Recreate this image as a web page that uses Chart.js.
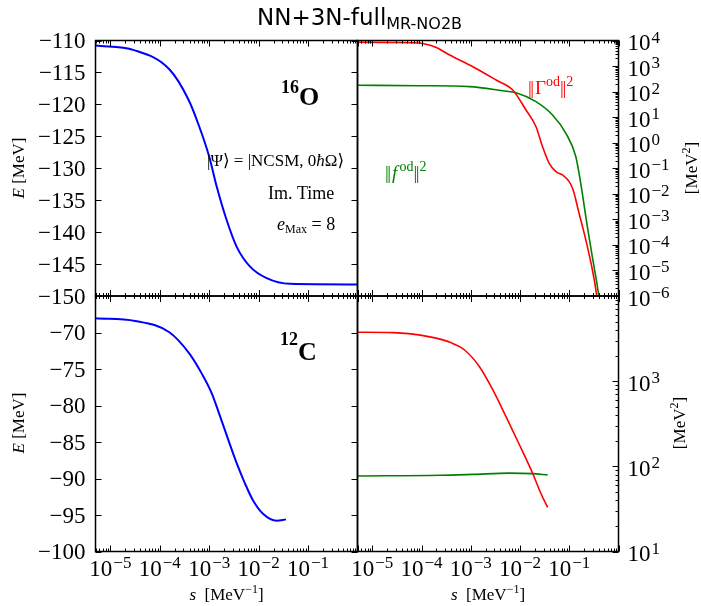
<!DOCTYPE html>
<html>
<head>
<meta charset="utf-8">
<script src="https://cdn.jsdelivr.net/npm/chart.js@4.4.1/dist/chart.umd.min.js"></script>
<style>
  body { margin: 0; background: #fff; }
  #fig { position: relative; width: 701px; height: 606px; }
  #fig canvas { position: absolute; left: 0; top: 0; }
</style>
</head>
<body>
<div id="fig">
  <canvas id="pTL" width="701" height="606"></canvas>
  <canvas id="pTR" width="701" height="606"></canvas>
  <canvas id="pBL" width="701" height="606"></canvas>
  <canvas id="pBR" width="701" height="606"></canvas>
</div>
<script>
// flow parameter range shared by all panels
const sMin = 5e-6, sMax = 1;

// 16O: ground-state energy
const sO16 = [5e-6, 3.0e-5, 1.56e-4, 3.77e-4, 6.3e-4, 1.0e-3, 1.42e-3, 2.25e-3, 3.6e-3, 6.7e-3, 1.45e-2, 4.3e-2, 1.0];
const eO16 = [-110.8, -111.5, -114.5, -119.2, -123.5, -128.2, -132.9, -138.1, -142.3, -145.4, -147.2, -148.1, -148.2];

// 16O: off-diagonal norms
const sO16Gamma = [5e-6, 2.28e-5, 7.0e-5, 1.07e-4, 2.0e-4, 3.72e-4, 1.1e-3, 3.27e-3, 7.1e-3, 1.32e-2, 2.11e-2, 2.87e-2, 3.92e-2, 5.36e-2, 7.28e-2, 9.95e-2, 0.12, 0.158, 0.217, 0.295, 0.355, 0.402];
const gammaO16 = [8510, 8400, 8200, 7600, 5300, 2700, 944, 284, 116, 19.1, 4.23, 0.697, 0.156, 0.0733, 0.0545, 0.0298, 0.0141, 1.73e-3, 1.56e-4, 1.04e-5, 1.28e-6, 1.15e-7];
const sO16F = [5e-6, 9.2e-5, 9.44e-4, 4.46e-3, 8.32e-3, 2.11e-2, 4.57e-2, 8.53e-2, 0.136, 0.171, 0.233, 0.318, 0.39, 0.441];
const fO16 = [177, 170, 156, 108, 90.6, 40.3, 12.1, 2.33, 0.283, 0.0258, 5.15e-4, 1.4e-5, 1.28e-6, 1.15e-7];

// 12C: ground-state energy
const sC12 = [5e-6, 3.16e-5, 1.56e-4, 4.07e-4, 7.03e-4, 1.12e-3, 1.66e-3, 2.43e-3, 3.59e-3, 5.28e-3, 7.76e-3, 1.24e-2, 2.31e-2, 3.57e-2];
const eC12 = [-68.06, -68.42, -69.97, -72.99, -75.6, -78.3, -81.5, -84.7, -87.9, -90.66, -93.04, -94.86, -95.78, -95.6];

// 12C: off-diagonal norms
const sC12Gamma = [5e-6, 2.65e-5, 1.47e-4, 4.03e-4, 7.48e-4, 1.5e-3, 2.79e-3, 5.22e-3, 9.77e-3, 1.8e-2, 2.66e-2, 3.63e-2];
const gammaC12 = [3750, 3715, 3311, 2818, 2323, 1479, 794, 380, 178, 83, 48, 33];
const sC12F = [5e-6, 2.34e-4, 1.1e-3, 6.1e-3, 1.8e-2, 3.63e-2];
const fC12 = [77, 78.5, 80.5, 83.2, 82, 79.4];

const SERIF = '"Liberation Serif", "DejaVu Serif", serif';
const SANS = '"DejaVu Sans", sans-serif';
const f = (size, style) => (style ? style + ' ' : '') + size + 'px ' + SERIF;

// draw a list of text runs [text, font, dy, dx] on one baseline
function drawRuns(ctx, x, y, runs, align) {
    let w = 0;
    runs.forEach(r => { ctx.font = r[1]; w += ctx.measureText(r[0]).width + (r[3] || 0); });
    let cx = align === 'center' ? x - w / 2 : align === 'right' ? x - w : x;
    runs.forEach(r => {
        ctx.font = r[1];
        cx += (r[3] || 0);
        ctx.fillText(r[0], cx, y + (r[2] || 0));
        cx += ctx.measureText(r[0]).width;
    });
}

function logTicks(min, max) {
    let majors = [], minors = [];
    for (let e = Math.floor(Math.log10(min)) - 1; e <= Math.ceil(Math.log10(max)); e++) {
        for (let k = 1; k < 10; k++) {
            let v = k * Math.pow(10, e);
            if (v < min * 0.999 || v > max * 1.001) continue;
            if (k === 1) majors.push(v); else minors.push(v);
        }
    }
    return { majors, minors };
}

function linTicks(min, max, step) {
    let majors = [];
    for (let v = Math.ceil(min / step) * step; v <= max + 1e-9; v += step) majors.push(v);
    return { majors, minors: [] };
}

function powLabel(v) {
    let e = Math.round(Math.log10(v));
    return [['10', f(23)], [(e < 0 ? '\u2212' : '') + Math.abs(e), f(17), -7.5, 1]];
}

// frame, inward ticks, tick labels and free text for one panel
const panelFrame = {
    id: 'panelFrame',
    afterDraw(chart, args, o) {
        const ctx = chart.ctx, a = chart.chartArea, xs = chart.scales.x, ys = chart.scales.y;
        const MAJ = 6, MIN = 3;
        ctx.save();
        ctx.strokeStyle = '#000';
        ctx.fillStyle = '#000';
        ctx.lineWidth = 1;

        const xt = logTicks(xs.min, xs.max);
        ctx.beginPath();
        [[xt.majors, MAJ], [xt.minors, MIN]].forEach(([vals, len]) => {
            vals.forEach(v => {
                let px = Math.round(xs.getPixelForValue(v)) + 0.5;
                ctx.moveTo(px, a.bottom); ctx.lineTo(px, a.bottom - len);
                ctx.moveTo(px, a.top); ctx.lineTo(px, a.top + len);
            });
        });
        const yt = o.yLog ? logTicks(ys.min, ys.max) : linTicks(ys.min, ys.max, 5);
        [[yt.majors, MAJ], [yt.minors, MIN]].forEach(([vals, len]) => {
            vals.forEach(v => {
                let py = Math.round(ys.getPixelForValue(v)) + 0.5;
                if (o.yLeftTicks) { ctx.moveTo(a.left, py); ctx.lineTo(a.left + len, py); }
                ctx.moveTo(a.right, py); ctx.lineTo(a.right - len, py);
            });
        });
        ctx.stroke();

        ctx.lineWidth = 1.5;
        ctx.strokeRect(a.left, a.top, a.right - a.left, a.bottom - a.top);

        // x tick labels
        if (o.xLabels) {
            xt.majors.forEach(v => {
                if (v >= xs.max * 0.99) return;
                drawRuns(ctx, xs.getPixelForValue(v), a.bottom + 24, powLabel(v), 'center');
            });
        }
        // y tick labels
        yt.majors.forEach(v => {
            if (o.skipTop && Math.abs(v - ys.max) < 1e-6 * Math.abs(ys.max)) return;
            let py = ys.getPixelForValue(v);
            if (o.yLog) {
                drawRuns(ctx, a.right + 9, py + 9.5, powLabel(v), 'left');
            } else {
                drawRuns(ctx, a.left - 10, py + 7.5, [['\u2212' + Math.abs(v), f(23)]], 'right');
            }
        });

        // free text
        (o.texts || []).forEach(t => {
            ctx.save();
            ctx.fillStyle = t.color || '#000';
            ctx.translate(t.x, t.y);
            if (t.rot) ctx.rotate(t.rot);
            drawRuns(ctx, 0, 0, t.runs, t.align || 'left');
            ctx.restore();
        });
        ctx.restore();
    }
};

function pts(sArr, yArr) {
    return sArr.map((s, i) => ({ x: s, y: yArr[i] }));
}

function line(sArr, yArr, color, width) {
    return {
        data: pts(sArr, yArr),
        borderColor: color,
        borderWidth: width,
        pointRadius: 0,
        fill: false,
        cubicInterpolationMode: 'monotone'
    };
}

function makePanel(id, pad, yType, yMin, yMax, datasets, frameOpts) {
    return new Chart(document.getElementById(id), {
        type: 'line',
        data: { datasets },
        options: {
            responsive: false,
            animation: false,
            devicePixelRatio: 1,
            layout: { padding: pad },
            scales: {
                x: { type: 'logarithmic', min: sMin, max: sMax, display: false },
                y: { type: yType, min: yMin, max: yMax, display: false }
            },
            plugins: {
                legend: { display: false },
                tooltip: { enabled: false },
                panelFrame: frameOpts
            }
        },
        plugins: [panelFrame]
    });
}

const HALF = -Math.PI / 2;
const eLabel = [['E', f(17, 'italic')], [' [MeV]', f(17)]];
const mev2Label = [['[MeV', f(17)], ['2', f(12), -7], [']', f(17)]];
const sLabel = [['s', f(17, 'italic')], ['  [MeV', f(17)], ['\u22121', f(12), -7], [']', f(17)]];
const bars = ['|', f(19)], barsTight = ['|', f(19), 0, -1.5];

makePanel('pTL', { left: 95.5, top: 40.5, right: 343.5, bottom: 310 }, 'linear', -150, -110,
    [line(sO16, eO16, '#0000ff', 2)],
    {
        yLog: false, yLeftTicks: true, xLabels: false,
        texts: [
            { x: 257, y: 25, runs: [['NN+3N-full', '23px ' + SANS], ['MR-NO2B', '16px ' + SANS, 3.5]] },
            { x: 24, y: 168, rot: HALF, align: 'center', runs: eLabel },
            { x: 281, y: 92.5, runs: [['16', f(18, 'bold')], ['O', f(26, 'bold'), 12]] },
            { x: 207, y: 166, runs: [['|\u03a8\u27e9 = |NCSM, 0', f(17)], ['\u0127', f(17, 'italic')], ['\u03a9\u27e9', f(17)]] },
            { x: 268, y: 199, runs: [['Im. Time', f(18)]] },
            { x: 277, y: 230, runs: [['e', f(18, 'italic')], ['Max', f(12), 3], [' = 8', f(18)]] }
        ]
    });

makePanel('pTR', { left: 357.5, top: 40.5, right: 82.5, bottom: 310 }, 'logarithmic', 1e-6, 1e4,
    [line(sO16Gamma, gammaO16, '#ff0000', 1.6), line(sO16F, fO16, '#008000', 1.6)],
    {
        yLog: true, yLeftTicks: false, xLabels: false,
        texts: [
            { x: 697, y: 168, rot: HALF, align: 'center', runs: mev2Label },
            { x: 528, y: 94, color: '#ff0000', runs: [bars, barsTight, ['\u0393', f(19), 0, 1], ['od', f(14), -8], bars, barsTight, ['2', f(14), -8]] },
            { x: 385, y: 179, color: '#008000', runs: [bars, barsTight, ['f', f(19, 'italic'), 0, 1], ['od', f(14), -8, 2], bars, barsTight, ['2', f(14), -8]] }
        ]
    });

makePanel('pBL', { left: 95.5, top: 296, right: 343.5, bottom: 54.5 }, 'linear', -100, -65,
    [line(sC12, eC12, '#0000ff', 2)],
    {
        yLog: false, yLeftTicks: true, xLabels: true, skipTop: true,
        texts: [
            { x: 24, y: 423, rot: HALF, align: 'center', runs: eLabel },
            { x: 226.5, y: 600, align: 'center', runs: sLabel },
            { x: 280, y: 345, runs: [['12', f(18, 'bold')], ['C', f(26, 'bold'), 15]] }
        ]
    });

makePanel('pBR', { left: 357.5, top: 296, right: 82.5, bottom: 54.5 }, 'logarithmic', 10, 1e4,
    [line(sC12Gamma, gammaC12, '#ff0000', 1.6), line(sC12F, fC12, '#008000', 1.6)],
    {
        yLog: true, yLeftTicks: false, xLabels: true, skipTop: true,
        texts: [
            { x: 685, y: 423, rot: HALF, align: 'center', runs: mev2Label },
            { x: 488, y: 600, align: 'center', runs: sLabel }
        ]
    });
</script>
</body>
</html>
